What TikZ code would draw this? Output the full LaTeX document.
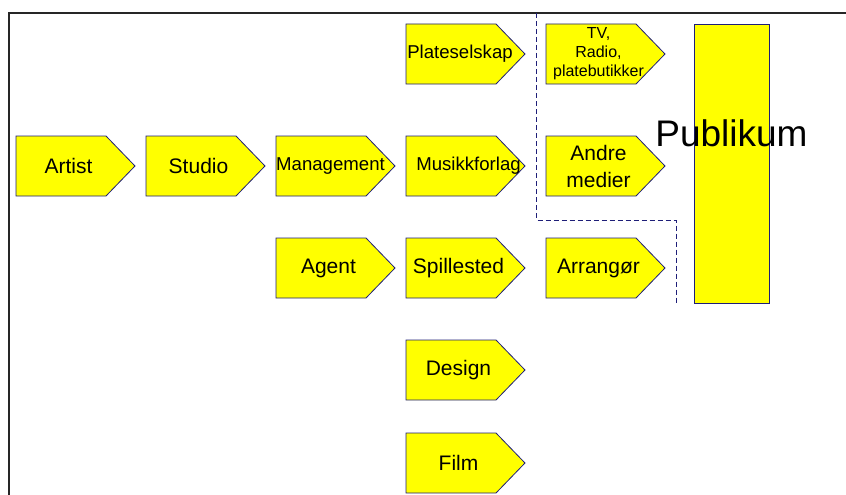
\documentclass[tikz,border=0pt]{standalone}
\usepackage{fontspec}
\setmainfont{Liberation Sans}
\usetikzlibrary{backgrounds}

\definecolor{boxfill}{RGB}{255,255,0}
\definecolor{boxline}{RGB}{30,30,120}

\begin{document}
\begin{tikzpicture}[x=1pt,y=-1pt,
   stage/.style={rectangle,inner sep=0pt,align=center,font=\fontsize{21}{27}\selectfont},
   small/.style={font=\fontsize{18.6}{22}\selectfont},
   stageline/.style={draw=boxline,fill=boxfill,line width=0.8pt}]
   \useasboundingbox (0,0) rectangle (846,495);
   \draw[line width=2pt,black!85] (9,495) -- (9,13) -- (846,13);
   \begin{scope}[every node/.style={stage}]
    \node (artist) at (68.5,166) {Artist};
    \node (studio) at (198.5,166) {Studio};
    \node[small] (mgmt) at (328.5,166) {\hspace*{4pt}Management};
    \node (agent) at (328.5,268) {Agent};
    \node[small] (plate) at (458.5,54) {\hspace*{3pt}Plateselskap};
    \node[small] (forlag) at (458.5,166) {\hspace*{20pt}Musikkforlag};
    \node (spill) at (458.5,268) {Spillested};
    \node (design) at (458.5,370) {Design};
    \node (film) at (458.5,463) {Film};
    \node[font=\fontsize{16}{19}\selectfont] (tv) at (598.5,54) {TV,\\Radio,\\platebutikker};
    \node (medier) at (598.5,166) {Andre\\medier};
    \node (arr) at (598.5,268) {Arrangør};
   \end{scope}
   % the arrow shapes behind the texts
   \begin{scope}[on background layer]
    \foreach \n in {artist,studio,mgmt,agent,plate,forlag,spill,design,film,tv,medier,arr}
     \draw[stageline] ([shift={(-52.5,-30)}]\n.center) -- ([shift={(37.5,-30)}]\n.center)
        -- ([shift={(66.5,0)}]\n.center) -- ([shift={(37.5,30)}]\n.center)
        -- ([shift={(-52.5,30)}]\n.center) -- cycle;
   \end{scope}
   \node[stageline,minimum width=75pt,minimum height=279pt,inner sep=0pt,
      label={[yshift=30pt,font=\fontsize{37}{40}\selectfont]center:Publikum}]
      (publikum) at (731.5,163.5) {};
   % dashed border round the media
   \coordinate (d1) at (536.5,13);
   \coordinate (d2) at (536.5,220);
   \coordinate (d3) at (676,220);
   \coordinate (d4) at (676,303);
   \draw[boxline,line width=0.8pt,dash pattern=on 5pt off 3pt] (d1) -- (d2) -- (d3) -- (d4);
\end{tikzpicture}
\end{document}
